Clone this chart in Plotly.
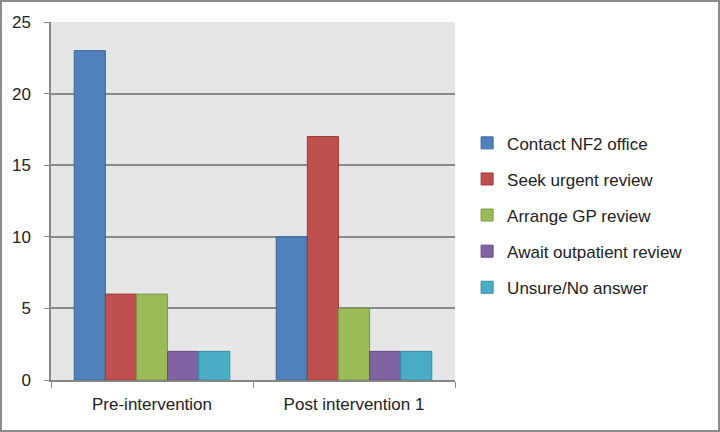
import plotly.graph_objects as go

categories = ['Pre-intervention', 'Post intervention 1']
series_names = ['Contact NF2 office', 'Seek urgent review', 'Arrange GP review',
                'Await outpatient review', 'Unsure/No answer']
series_values = [
    [23, 10],
    [6, 17],
    [6, 5],
    [2, 2],
    [2, 2],
]
y_ticks = [0, 5, 10, 15, 20, 25]

fills = ['#4F81BD', '#C0504D', '#9BBB59', '#8064A2', '#4BACC6']
edges = ['#3C6696', '#9C3A37', '#7C9A42', '#634B83', '#358CA6']

W, H = 720, 432
ml, mr, mt, mb = 51, 265, 22, 52

fig = go.Figure()
for i, name in enumerate(series_names):
    fig.add_trace(go.Bar(
        x=categories, y=series_values[i], name=name,
        legendgroup=name,
        marker=dict(color=fills[i], line=dict(color=edges[i], width=1)),
    ))

# grey frame round the whole chart
pw = W - ml - mr
ph = H - mt - mb
fig.add_shape(type='rect', xref='paper', yref='paper',
              x0=(1 - ml) / pw, x1=(W - 1 - ml) / pw,
              y0=-(H - 1 - mt - ph) / ph, y1=(mt - 1) / ph + 1,
              line=dict(color='#8c8c8c', width=2), layer='below')

fig.update_layout(
    width=W, height=H,
    margin=dict(l=ml, r=mr, t=mt, b=mb),
    paper_bgcolor='white', plot_bgcolor='#e6e6e6',
    barmode='group', bargap=0.23, bargroupgap=0,
    font=dict(family='Liberation Sans, Arial, sans-serif', size=17, color='#222222'),
    showlegend=True,
    legend=dict(x=1.03, y=0.46, xanchor='left', yanchor='middle',
                traceorder='grouped', tracegroupgap=11,
                font=dict(size=17), itemwidth=30),
    xaxis=dict(showline=True, linecolor='#868686', linewidth=1.5,
               ticks='outside', tickson='boundaries', ticklen=6, tickcolor='#868686',
               ticklabelstandoff=8, showgrid=False),
    yaxis=dict(range=[0, 25], tickvals=y_ticks, showline=True, linecolor='#868686',
               linewidth=1.5, ticks='outside', ticklen=5, tickcolor='#868686',
               ticklabelstandoff=10,
               showgrid=True, gridcolor='#8a8a8a', gridwidth=1.5, zeroline=False),
)

fig.write_html('out.html', config={'displayModeBar': False},
               post_script="document.body.style.margin='0';document.body.style.overflow='hidden';")
